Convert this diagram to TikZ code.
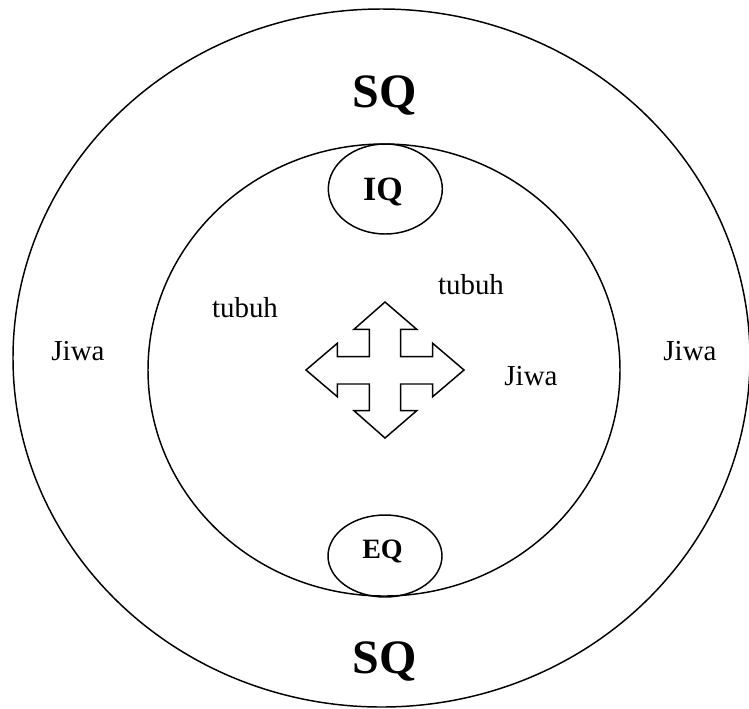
\documentclass[tikz,border=0pt]{standalone}
\usepackage{fontspec}
\setmainfont{Liberation Serif}
\tikzset{
  txt/.style={anchor=base, font=\fontsize{21.7}{26}\selectfont},
  sqlbl/.style={anchor=base, font=\bfseries\fontsize{36}{42}\selectfont},
  iqlbl/.style={anchor=base, font=\bfseries\fontsize{25.5}{30}\selectfont},
  eqlbl/.style={anchor=base, font=\bfseries\fontsize{21}{25}\selectfont},
}
\begin{document}
\begin{tikzpicture}[x=0.75pt,y=0.75pt,yscale=-1,xscale=1,line width=1.1pt]
\useasboundingbox (0,0) rectangle (749,708);
%Shape: Ellipse [outer]
\draw (381.5,358) ellipse (368.5 and 349);
%Shape: Ellipse [inner]
\draw (384,370) ellipse (236 and 226);
%Shape: Ellipse [IQ]
\draw (385.3,189) ellipse (57 and 45);
%Shape: Ellipse [EQ]
\draw (385,556) ellipse (57 and 41);
%Shape: Cross arrow
\draw (385,302) -- (416.7,329.3) -- (400.7,329.3) -- (400.7,356.7) -- (432.7,356.7) -- (432.7,343.3) -- (464,370)
  -- (432.7,396.7) -- (432.7,384) -- (400.7,384) -- (400.7,410.7) -- (416.7,410.7) -- (385,438)
  -- (354,410.7) -- (369.3,410.7) -- (369.3,384) -- (337.3,384) -- (337.3,396.7) -- (306,370)
  -- (337.3,343.3) -- (337.3,356.7) -- (369.3,356.7) -- (369.3,329.3) -- (354,329.3) -- cycle ;
% Text Node
\node (sqtop) at (385,107) [sqlbl] {SQ};
% Text Node
\node (sqbot) at (385,673) [sqlbl] {SQ};
% Text Node
\node (iq) at (383,200) [iqlbl] {IQ};
% Text Node
\node (eq) at (382.5,558) [eqlbl] {EQ};
% Text Node
\node (tubuhl) at (245,317) [txt] {tubuh};
% Text Node
\node (tubuhr) at (471,294) [txt] {tubuh};
% Text Node
\node (jiwain) at (531,385) [txt] {Jiwa};
% Text Node
\node (jiwal) at (78,360) [txt] {Jiwa};
% Text Node
\node (jiwar) at (690,360) [txt] {Jiwa};
\end{tikzpicture}
\end{document}
